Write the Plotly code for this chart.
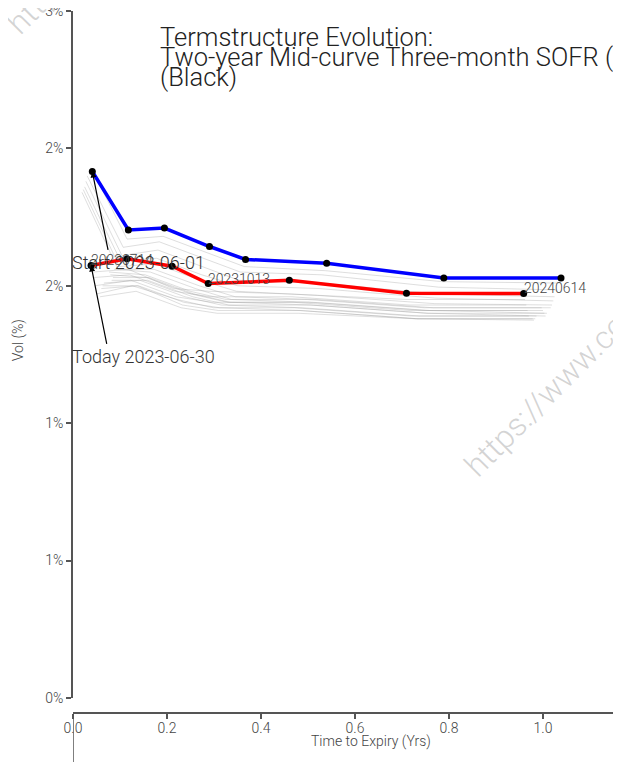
import pandas as pd
import plotly.graph_objects as go

# ---------------- data ----------------
expiries = ["2023-06-16", "2023-07-14", "2023-08-11", "2023-09-15",
            "2023-10-13", "2023-12-15", "2024-03-15", "2024-06-14"]

start_date = "2023-06-01"
start_vols = [1.916, 1.703, 1.710, 1.643, 1.596, 1.582, 1.528, 1.528]

today_date = "2023-06-30"
today_vols = [None, 1.574, 1.598, 1.571, 1.508, 1.520, 1.473, 1.472]

hist_dates = ["2023-06-02", "2023-06-05", "2023-06-06", "2023-06-07", "2023-06-08",
              "2023-06-09", "2023-06-12", "2023-06-13", "2023-06-14", "2023-06-15",
              "2023-06-16", "2023-06-20", "2023-06-21", "2023-06-22", "2023-06-23",
              "2023-06-26", "2023-06-27", "2023-06-28", "2023-06-29"]
hist_vols = [
    [1.93, 1.67, 1.68, 1.62, 1.57, 1.555, 1.515, 1.510],
    [1.90, 1.64, 1.66, 1.60, 1.55, 1.540, 1.495, 1.485],
    [1.88, 1.61, 1.63, 1.57, 1.52, 1.510, 1.470, 1.460],
    [1.86, 1.59, 1.60, 1.54, 1.50, 1.490, 1.455, 1.445],
    [1.85, 1.57, 1.58, 1.52, 1.48, 1.465, 1.435, 1.430],
    [1.84, 1.56, 1.56, 1.50, 1.46, 1.450, 1.420, 1.420],
    [None, 1.56, 1.55, 1.49, 1.45, 1.440, 1.410, 1.400],
    [None, 1.53, 1.53, 1.47, 1.44, 1.430, 1.400, 1.390],
    [None, 1.52, 1.52, 1.46, 1.43, 1.430, 1.400, 1.400],
    [None, 1.54, 1.53, 1.47, 1.44, 1.440, 1.410, 1.410],
    [None, 1.55, 1.54, 1.48, 1.45, 1.450, 1.420, 1.420],
    [None, 1.51, 1.52, 1.46, 1.43, 1.420, 1.390, 1.390],
    [None, 1.50, 1.50, 1.44, 1.42, 1.410, 1.380, 1.380],
    [None, 1.49, 1.50, 1.43, 1.41, 1.410, 1.380, 1.375],
    [None, 1.46, 1.48, 1.42, 1.40, 1.400, 1.380, 1.380],
    [None, 1.47, 1.50, 1.45, 1.42, 1.420, 1.390, 1.390],
    [None, 1.50, 1.52, 1.46, 1.44, 1.440, 1.410, 1.410],
    [None, 1.53, 1.54, 1.48, 1.46, 1.460, 1.430, 1.430],
    [None, 1.55, 1.56, 1.49, 1.48, 1.470, 1.450, 1.450],
]

label_every = 3
y_ticks = [0, 0.5, 1.0, 1.5, 2.0, 2.5]
y_ticktext = ["0%", "1%", "1%", "2%", "2%", "3%"]
x_ticks = [0.0, 0.2, 0.4, 0.6, 0.8, 1.0]
x_ticktext = ["0.0", "0.2", "0.4", "0.6", "0.8", "1.0"]

title_lines = ["Termstructure Evolution:",
               "Two-year Mid-curve Three-month SOFR (SR3)",
               "(Black)"]
x_title = "Time to Expiry (Yrs)"
y_title = "Vol (%)"
watermark = "https://www.co"

# ---------------- helpers ----------------
exp_ts = [pd.Timestamp(e) for e in expiries]


def curve(val_date, vols):
    d0 = pd.Timestamp(val_date)
    xs, ys, ds = [], [], []
    for e, v in zip(exp_ts, vols):
        if v is None:
            continue
        xs.append((e - d0).days / 365.0)
        ys.append(v)
        ds.append(e.strftime("%Y%m%d"))
    return xs, ys, ds


FONT = "Roboto Light, Roboto"
AXC = "#555"
fig = go.Figure()

for d, v in zip(hist_dates, hist_vols):
    xs, ys, _ = curve(d, v)
    fig.add_trace(go.Scatter(x=xs, y=ys, mode="lines",
                             line=dict(color="rgba(160,160,160,0.35)", width=1),
                             showlegend=False, hoverinfo="skip"))

bx, by, _ = curve(start_date, start_vols)
fig.add_trace(go.Scatter(x=bx, y=by, mode="lines+markers",
                         line=dict(color="#0000ff", width=3.5),
                         marker=dict(color="black", size=7),
                         name="Start", showlegend=False))

rx, ry, rd = curve(today_date, today_vols)
fig.add_trace(go.Scatter(x=rx, y=ry, mode="lines+markers",
                         line=dict(color="#ff0000", width=3.5),
                         marker=dict(color="black", size=7),
                         name="Today", showlegend=False))

ann = []
# expiry labels on today's curve
for i in range(0, len(rx), label_every):
    ann.append(dict(x=rx[i], y=ry[i], xref="x", yref="y", text=rd[i],
                    showarrow=False, xanchor="left", yanchor="middle",
                    yshift=5, xshift=-2,
                    font=dict(family=FONT, size=14, color="#444")))

# Start / Today arrows + labels
for (xx, yy, lab, tx, ty) in [
        (bx[0], by[0], "Start " + start_date, 0.1404, 1.585),
        (rx[0], ry[0], "Today " + today_date, 0.149, 1.244)]:
    ann.append(dict(x=xx, y=yy, xref="x", yref="y", text="", showarrow=True,
                    ax=16, ay=80, arrowhead=2, arrowsize=1, arrowwidth=1.2,
                    arrowcolor="black"))
    ann.append(dict(x=tx, y=ty, xref="x", yref="y", text=lab, showarrow=False,
                    xanchor="center", yanchor="middle",
                    font=dict(family=FONT, size=18, color="#333", weight=300)))

# title lines
for line, py in zip(title_lines, [0.963, 0.934, 0.9055]):
    ann.append(dict(x=0.155, y=py, xref="paper", yref="paper", text=line,
                    showarrow=False, xanchor="left", yanchor="middle",
                    font=dict(family=FONT, size=25.5, color="#222", weight=300)))

# axis titles
ann.append(dict(x=0.5438, y=-0.0413, xref="paper", yref="paper", text=x_title,
                showarrow=False, xanchor="center", yanchor="middle",
                font=dict(family=FONT, size=14, color="#444")))
ann.append(dict(x=-0.1004, y=0.531, xref="paper", yref="paper", text=y_title,
                showarrow=False, xanchor="center", yanchor="middle", textangle=-90,
                font=dict(family=FONT, size=14, color="#444")))

# watermark
for (wx, wy) in [(0.863, 0.453), (0.0265, 1.0833)]:
    ann.append(dict(x=wx, y=wy, xref="paper", yref="paper", text=watermark,
                    showarrow=False, textangle=-45, xanchor="center",
                    yanchor="middle",
                    font=dict(family=FONT, size=32, color="rgba(175,175,175,0.55)",
                              weight=300)))

fig.update_layout(
    width=621, height=762,
    margin=dict(l=65, r=8, t=3, b=57, autoexpand=False),
    paper_bgcolor="white", plot_bgcolor="white",
    font=dict(family=FONT, color="#444", size=13, weight=300),
    showlegend=False,
    annotations=ann,
    xaxis=dict(range=[0, 1.166], anchor="free", position=0, automargin=False,
               tickmode="array", tickvals=x_ticks, ticktext=x_ticktext,
               tickfont=dict(family=FONT, size=14, color="#444"),
               ticklabelstandoff=-3, ticklabeloverflow="allow",
               showline=True, linecolor=AXC, linewidth=1.5,
               ticks="outside", ticklen=5, tickcolor=AXC, tickwidth=1.5,
               showgrid=False, zeroline=False),
    yaxis=dict(range=[0, 2.5], domain=[0.0214, 1], automargin=False,
               tickmode="array", tickvals=y_ticks, ticktext=y_ticktext,
               tickfont=dict(family=FONT, size=14, color="#444"),
               ticklabeloverflow="allow",
               showline=True, linecolor=AXC, linewidth=1.5,
               ticks="outside", ticklen=5, tickcolor=AXC, tickwidth=1.5,
               showgrid=False, zeroline=False),
    shapes=[dict(type="line", xref="x", yref="paper", x0=0, x1=0,
                 y0=0, y1=-0.075, line=dict(color=AXC, width=1.5))],
)

fig.write_html("out.html")
